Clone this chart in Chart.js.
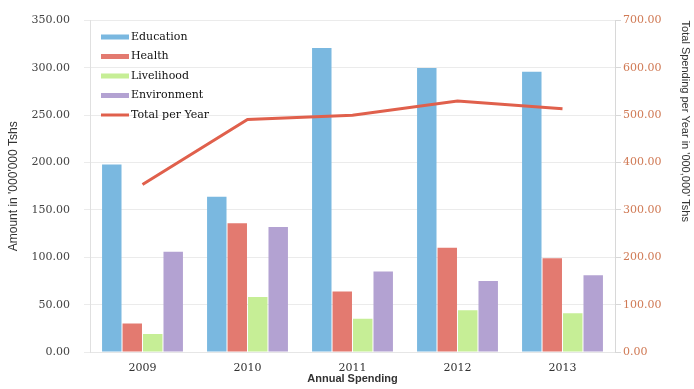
<!DOCTYPE html>
<html>
<head>
<meta charset="utf-8">
<script src="https://cdn.jsdelivr.net/npm/chart.js@4.4.1/dist/chart.umd.min.js"></script>
<style>
  html, body { margin: 0; padding: 0; background: #fff; }
  #wrap { width: 694px; height: 389px; }
</style>
</head>
<body>
<div id="wrap"><canvas id="chart"></canvas></div>
<script>
const years = ["2009", "2010", "2011", "2012", "2013"];
const education = [198, 164, 321, 300, 296];
const health = [30, 136, 64, 110, 99];
const livelihood = [19, 58, 35, 44, 41];
const environment = [106, 132, 85, 75, 81];
const totalPerYear = [354, 491, 500, 530, 514];

const serif = "'DejaVu Serif', serif";
const narrow = "'Liberation Sans Narrow', 'Liberation Sans', sans-serif";

// legend drawn inside the plot, top-left, stacked
const insideLegend = {
  id: "insideLegend",
  afterDraw(chart) {
    const ctx = chart.ctx;
    const x = chart.chartArea.left + 11;
    let y = 37;
    ctx.save();
    ctx.font = "11px " + serif;
    ctx.textBaseline = "middle";
    ctx.textAlign = "left";
    chart.data.datasets.forEach((ds) => {
      if (ds.type === "line") {
        ctx.strokeStyle = ds.borderColor;
        ctx.lineWidth = 3;
        ctx.beginPath();
        ctx.moveTo(x, y);
        ctx.lineTo(x + 28, y);
        ctx.stroke();
      } else {
        ctx.fillStyle = ds.backgroundColor;
        ctx.fillRect(x, y - 2.5, 28, 5);
      }
      ctx.fillStyle = "#111";
      ctx.fillText(ds.label, x + 30, y);
      y += 19.5;
    });
    ctx.restore();
  },
};

new Chart(document.getElementById("chart"), {
  type: "bar",
  data: {
    labels: years,
    datasets: [
      { label: "Education", data: education, backgroundColor: "#7ab8e0", yAxisID: "y", order: 1 },
      { label: "Health", data: health, backgroundColor: "#e37a70", yAxisID: "y", order: 1 },
      { label: "Livelihood", data: livelihood, backgroundColor: "#c6ee96", yAxisID: "y", order: 1 },
      { label: "Environment", data: environment, backgroundColor: "#b3a2d2", yAxisID: "y", order: 1 },
      {
        type: "line",
        label: "Total per Year",
        data: totalPerYear,
        borderColor: "#e0604c",
        borderWidth: 3,
        pointRadius: 0,
        tension: 0,
        yAxisID: "y1",
        order: 0,
      },
    ],
  },
  options: {
    responsive: true,
    maintainAspectRatio: false,
    animation: false,
    layout: { padding: { top: 11, left: 0, right: 0, bottom: 0 } },
    datasets: {
      bar: { categoryPercentage: 0.78, barPercentage: 0.95 },
    },
    plugins: {
      legend: { display: false },
      tooltip: { enabled: false },
    },
    scales: {
      x: {
        grid: { display: false },
        border: { color: "#e6e6e6" },
        ticks: { color: "#333", padding: 2, font: { family: serif, size: 11 } },
        title: {
          display: true,
          text: "Annual Spending",
          color: "#333",
          padding: { top: 0, bottom: 3 },
          font: { family: "'Liberation Sans', sans-serif", size: 11, weight: "bold" },
        },
        afterFit(scale) {
          scale.height = 37;
        },
      },
      y: {
        position: "left",
        min: 0,
        max: 350,
        ticks: {
          stepSize: 50,
          color: "#444",
          padding: 14,
          font: { family: serif, size: 11 },
          callback: (v) => v.toFixed(2),
        },
        grid: { color: "#ebebeb", tickLength: 6 },
        border: { color: "#e0e0e0" },
        title: {
          display: true,
          text: "Amount in '000'000 Tshs",
          color: "#333",
          padding: { top: 6, bottom: 0 },
          font: { family: narrow, size: 12 },
        },
        afterFit(scale) {
          scale.width = 90;
        },
      },
      y1: {
        position: "right",
        min: 0,
        max: 700,
        ticks: {
          stepSize: 100,
          color: "#d07a55",
          padding: 2,
          font: { family: serif, size: 11 },
          callback: (v) => v.toFixed(2),
        },
        grid: { drawOnChartArea: false, color: "#d8d8d8", tickLength: 6 },
        border: { color: "#d8d8d8" },
        title: {
          display: true,
          text: "Total Spending per Year in '000,000' Tshs",
          color: "#333",
          align: "end",
          padding: { top: 2, bottom: 0 },
          font: { family: narrow, size: 11 },
        },
        afterFit(scale) {
          scale.width = 79;
        },
      },
    },
  },
  plugins: [insideLegend],
});
</script>
</body>
</html>
